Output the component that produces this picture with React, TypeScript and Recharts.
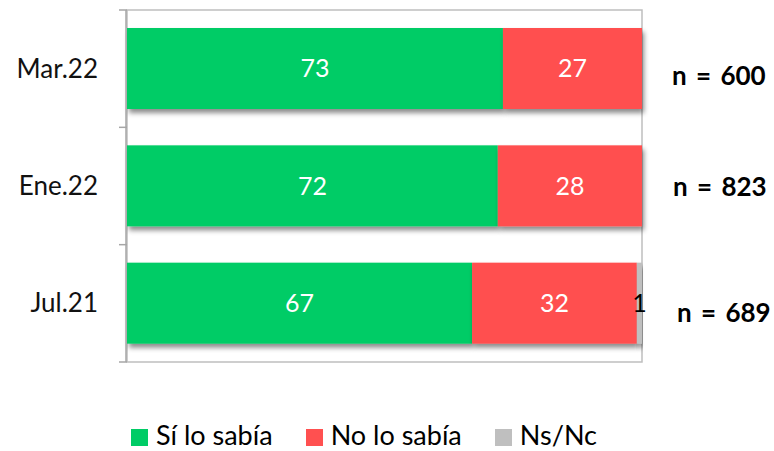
import React from "react";
import {
  BarChart,
  Bar,
  XAxis,
  YAxis,
  Legend,
  LabelList,
  ReferenceArea,
} from "recharts";

const categories = ["Mar.22", "Ene.22", "Jul.21"];
const siLoSabia = [73, 72, 67];
const noLoSabia = [27, 28, 32];
const nsNc = [0, 0, 1];
const nLabels = ["n = 600", "n = 823", "n = 689"];
const seriesNames = ["Sí lo sabía", "No lo sabía", "Ns/Nc"];
// category boundaries, in the index units of the boundary-tick axis (0 .. n-1)
const gridMax = categories.length - 1;
const gridTicks = [0, 1, 2, 3].map((k) => (k * gridMax) / categories.length);

const data = categories.map((c, i) => ({
  cat: c,
  si: siLoSabia[i],
  no: noLoSabia[i],
  ns: nsNc[i],
}));

const FONT = "Lato, 'Open Sans', sans-serif";
const GREEN = "#00CC66";
const RED = "#FF5050";
const GRAY = "#BFBFBF";
const nLabelDy = [16, 10, 19];
const nLabelDx = [0, 1, 5];

const ShadowRect = (props: any) => {
  const { x, y, width, height, fill } = props;
  if (!width || width <= 0) return null;
  return (
    <rect
      x={x}
      y={y}
      width={width}
      height={height}
      fill={fill}
      filter="url(#barShadow)"
    />
  );
};

const RightTick = (props: any) => {
  const { x, y, payload } = props;
  const i = payload.index;
  return (
    <text
      x={x + nLabelDx[i]}
      y={y}
      dy={nLabelDy[i]}
      textAnchor="start"
      fontFamily={FONT}
      fontWeight={700}
      fontSize={26}
      fill="#000"
      style={{ wordSpacing: "3px" }}
    >
      {nLabels[i]}
    </text>
  );
};

const LeftTick = (props: any) => {
  const { x, y, payload } = props;
  return (
    <text
      x={x}
      y={y}
      dy={9}
      textAnchor="end"
      fontFamily={FONT}
      fontSize={26}
      fill="#111"
    >
      {payload.value}
    </text>
  );
};

const EmptyTick = () => <g />;

const LegendContent = (props: any) => {
  const { payload } = props;
  const items = seriesNames
    .map((n) => (payload || []).find((p: any) => p.value === n))
    .filter(Boolean);
  return (
    <div
      style={{
        display: "flex",
        justifyContent: "flex-start",
        paddingLeft: 131,
        fontFamily: FONT,
        fontSize: 27,
        lineHeight: "32px",
        height: 32,
      }}
    >
      {items.map((p: any, i: number) => (
        <div
          key={i}
          style={{
            display: "flex",
            alignItems: "center",
            marginRight: 33,
            color: "#000",
            whiteSpace: "nowrap",
          }}
        >
          <span
            style={{
              display: "inline-block",
              width: 17,
              height: 17,
              background: p.color,
              marginRight: 8,
              marginTop: 4,
            }}
          />
          <span>{p.value}</span>
        </div>
      ))}
    </div>
  );
};

const valueFormatter = (v: any) => (v && v > 0 ? String(v) : "");

export default function App() {
  return (
    <div style={{ position: "absolute", left: 0, top: 0, background: "#fff" }}>
      <BarChart
        width={774}
        height={451}
        data={data}
        layout="vertical"
        margin={{ top: 10, right: 0, bottom: 57, left: 0 }}
        barSize={81}
      >
        <defs>
          <filter id="barShadow" x="-5%" y="-20%" width="110%" height="150%">
            <feDropShadow
              dx={2}
              dy={4}
              stdDeviation={2.5}
              floodColor="#000"
              floodOpacity={0.45}
            />
          </filter>
        </defs>
        <XAxis type="number" domain={[0, 100]} hide />
        <YAxis
          yAxisId="aa"
          type="number"
          orientation="left"
          domain={[0, gridMax]}
          ticks={gridTicks}
          interval={0}
          tick={<EmptyTick />}
          axisLine={false}
          tickLine={{ stroke: "#A6A6A6", strokeWidth: 1.5 }}
          tickSize={8}
          width={1}
          allowDataOverflow
        />
        <YAxis
          yAxisId="cat"
          type="category"
          dataKey="cat"
          orientation="left"
          width={126}
          tickLine={false}
          tickSize={0}
          tickMargin={28}
          axisLine={{ stroke: "#A6A6A6", strokeWidth: 1.5 }}
          tick={<LeftTick />}
        />
        <YAxis
          yAxisId="right"
          type="category"
          dataKey="cat"
          orientation="right"
          width={132}
          tickLine={false}
          axisLine={false}
          tickSize={0}
          tickMargin={30}
          tick={<RightTick />}
        />
        <ReferenceArea
          yAxisId="cat"
          x1={0}
          x2={100}
          fill="none"
          stroke={GRAY}
          strokeWidth={1.5}
        />
        <Bar
          yAxisId="cat"
          dataKey="si"
          name={seriesNames[0]}
          stackId="a"
          fill={GREEN}
          shape={<ShadowRect />}
          isAnimationActive={false}
        >
          <LabelList
            dataKey="si"
            position="center"
            fill="#fff"
            fontFamily={FONT}
            fontSize={25}
            formatter={valueFormatter}
          />
        </Bar>
        <Bar
          yAxisId="cat"
          dataKey="no"
          name={seriesNames[1]}
          stackId="a"
          fill={RED}
          shape={<ShadowRect />}
          isAnimationActive={false}
        >
          <LabelList
            dataKey="no"
            position="center"
            fill="#fff"
            fontFamily={FONT}
            fontSize={25}
            formatter={valueFormatter}
          />
        </Bar>
        <Bar
          yAxisId="cat"
          dataKey="ns"
          name={seriesNames[2]}
          stackId="a"
          fill={GRAY}
          shape={<ShadowRect />}
          isAnimationActive={false}
        >
          <LabelList
            dataKey="ns"
            position="center"
            fill="#000"
            fontFamily={FONT}
            fontSize={25}
            formatter={valueFormatter}
          />
        </Bar>
        <Legend
          verticalAlign="bottom"
          content={<LegendContent />}
          wrapperStyle={{ bottom: 0, left: 0, width: 774, height: 32 }}
        />
      </BarChart>
    </div>
  );
}
